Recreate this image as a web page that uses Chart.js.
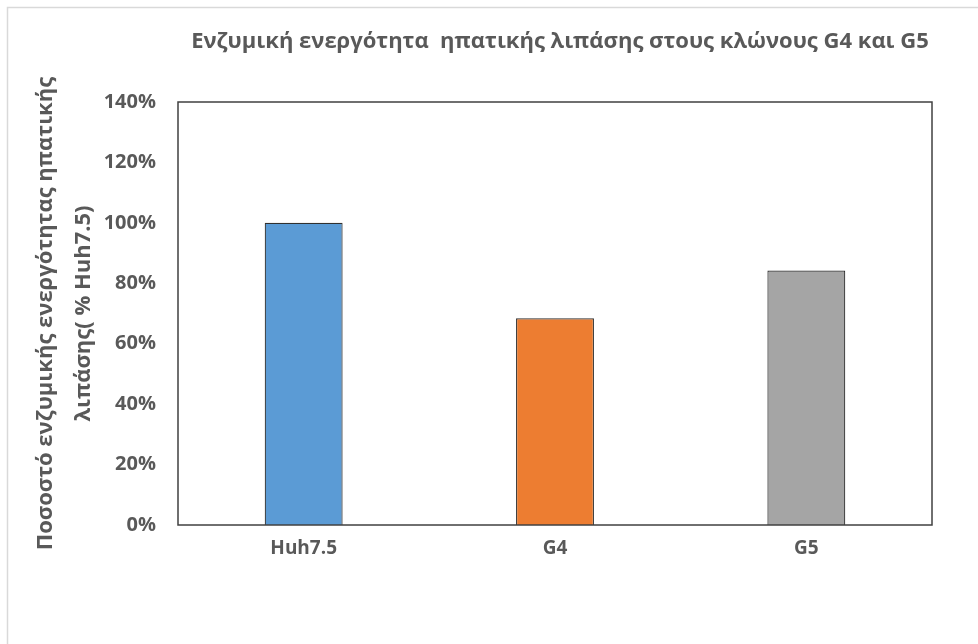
<!DOCTYPE html>
<html>
<head>
<meta charset="utf-8">
<script src="https://cdn.jsdelivr.net/npm/chart.js@4.4.1/dist/chart.umd.min.js"></script>
<style>
  html, body { margin: 0; padding: 0; background: #ffffff; }
  #wrap { position: relative; width: 978px; height: 644px; }
</style>
</head>
<body>
<div id="wrap"><canvas id="chart" width="978" height="644"></canvas></div>
<script>
// Enzyme activity of hepatic lipase per clone, as % of Huh7.5
const categories = ['Huh7.5', 'G4', 'G5'];
const activityPercent = [100, 68.4, 84.2];
const barColors = ['#5B9BD5', '#ED7D31', '#A5A5A5'];
const yTicks = [0, 20, 40, 60, 80, 100, 120, 140];
const titleText = 'Ενζυμική ενεργότητα  ηπατικής λιπάσης στους κλώνους G4 και G5';
const yTitleLines = ['Ποσοστό ενζυμικής ενεργότητας ηπατικής', 'λιπάσης( % Huh7.5)'];

const FONT = "'Open Sans', 'Noto Sans', sans-serif";
const TEXT_GRAY = '#595959';

// Outer frame of the chart object, the chart title, and the box round the plot area
const framePlugin = {
  id: 'frames',
  beforeDraw(chart) {
    const ctx = chart.ctx;
    ctx.save();
    ctx.strokeStyle = '#d9d9d9';
    ctx.lineWidth = 1.5;
    ctx.strokeRect(7.5, 7.5, chart.width + 20, chart.height + 20);
    ctx.restore();
  },
  afterDraw(chart) {
    const ctx = chart.ctx;
    ctx.save();
    ctx.fillStyle = TEXT_GRAY;
    ctx.font = "bold 22px " + FONT;
    ctx.textAlign = 'center';
    ctx.textBaseline = 'middle';
    ctx.fillText(titleText, 560, 42);
    ctx.restore();
  },
  afterDatasetsDraw(chart) {
    const a = chart.chartArea;
    const ctx = chart.ctx;
    ctx.save();
    ctx.strokeStyle = '#404040';
    ctx.lineWidth = 1.5;
    ctx.strokeRect(a.left, a.top, a.right - a.left, a.bottom - a.top);
    ctx.restore();
  }
};

new Chart(document.getElementById('chart'), {
  type: 'bar',
  data: {
    labels: categories,
    datasets: [{
      data: activityPercent,
      backgroundColor: barColors,
      borderColor: '#303030',
      borderWidth: 1.2,
      barPercentage: 0.31,
      categoryPercentage: 1.0
    }]
  },
  options: {
    responsive: false,
    animation: false,
    devicePixelRatio: 1,
    layout: { padding: { left: 0, right: 46, top: 102, bottom: 0 } },
    plugins: {
      legend: { display: false },
      tooltip: { enabled: false },
      title: { display: false }
    },
    scales: {
      x: {
        grid: { display: false, drawTicks: false },
        border: { display: false },
        ticks: {
          color: TEXT_GRAY,
          font: { family: FONT, size: 19, weight: 'bold' },
          padding: 12
        },
        afterFit(scale) { scale.height = 119; }
      },
      y: {
        min: 0,
        max: 140,
        afterBuildTicks(scale) {
          scale.ticks = yTicks.map(v => ({ value: v }));
        },
        grid: { display: false, drawTicks: false },
        border: { display: false },
        ticks: {
          color: TEXT_GRAY,
          font: { family: FONT, size: 20, weight: 'bold' },
          padding: 22,
          callback: v => v + '%'
        },
        title: {
          display: true,
          text: yTitleLines,
          color: TEXT_GRAY,
          font: { family: FONT, size: 22, weight: 'bold', lineHeight: 1.75 },
          padding: { top: 26, bottom: 0 }
        },
        afterFit(scale) { scale.width = 178; }
      }
    }
  },
  plugins: [framePlugin]
});
</script>
</body>
</html>
